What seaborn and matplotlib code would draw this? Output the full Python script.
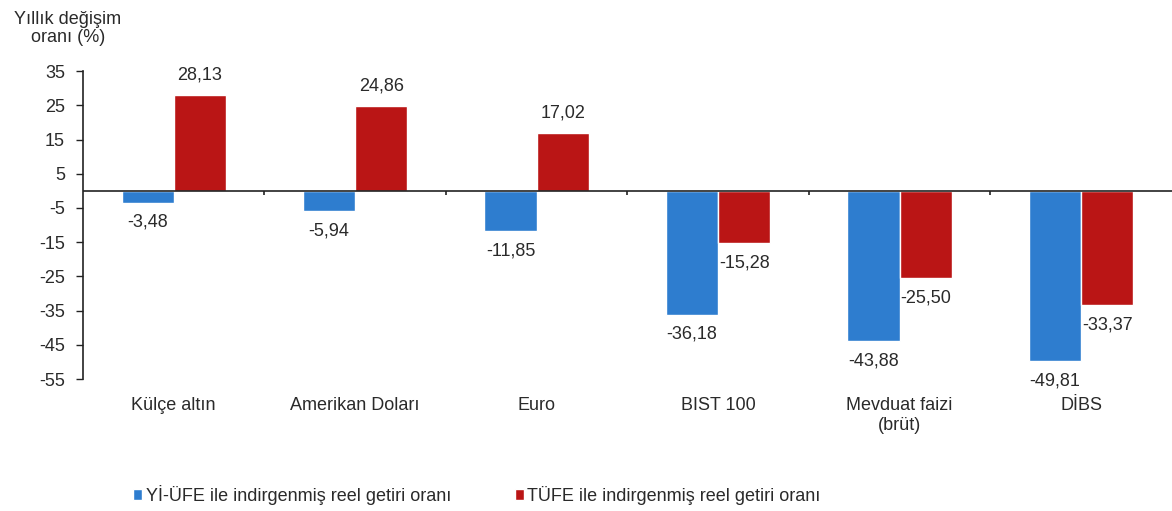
import matplotlib
matplotlib.use("Agg")
import matplotlib.pyplot as plt
import seaborn as sns
import pandas as pd
import numpy as np

categories = ["Külçe altın", "Amerikan Doları", "Euro", "BIST 100", "Mevduat faizi\n(brüt)", "DİBS"]
series_names = ["Yİ-ÜFE ile indirgenmiş reel getiri oranı", "TÜFE ile indirgenmiş reel getiri oranı"]
yiufe = [-3.48, -5.94, -11.85, -36.18, -43.88, -49.81]
tufe = [28.13, 24.86, 17.02, -15.28, -25.50, -33.37]
yticks = [35, 25, 15, 5, -5, -15, -25, -35, -45, -55]
colors = ["#2E7DCF", "#BA1515"]

df = pd.DataFrame({
    "cat": categories * 2,
    "series": [series_names[0]] * 6 + [series_names[1]] * 6,
    "val": yiufe + tufe,
})

sns.set_theme(style="white")
plt.rcParams["font.family"] = ["Liberation Sans", "DejaVu Sans"]
FS = 13

fig = plt.figure(figsize=(11.72, 5.11), dpi=100)
ax = fig.add_axes([0.0708, 0.258, 0.929, 0.603])

sns.barplot(data=df, x="cat", y="val", hue="series", palette=colors,
            width=0.575, saturation=1, ax=ax, legend=True)

ax.set_ylim(-55, 35)
ax.set_xlim(-0.5, 5.5)
ax.set_yticks(yticks)
ax.set_yticklabels([str(t) for t in yticks], fontsize=FS, color="#2a2a2a")
ax.tick_params(axis="y", direction="out", length=5, width=1, pad=8, left=True, color="#222222")
ax.tick_params(axis="x", length=0, pad=13, labelsize=FS, labelcolor="#2a2a2a")
ax.set_xlabel("")
ax.set_ylabel("")

for s in ["top", "right", "bottom"]:
    ax.spines[s].set_visible(False)
ax.spines["left"].set_color("#222222")
ax.spines["left"].set_linewidth(1.2)

ax.axhline(0, color="#222222", lw=1.2, zorder=5)
for b in np.arange(0.5, 5.5, 1.0):
    ax.vlines(b, -1.3, 0, color="#222222", lw=1.2, zorder=5)

def fmt(v):
    return f"{v:.2f}".replace(".", ",")

for container in ax.containers:
    for patch in container:
        h = patch.get_height()
        x = patch.get_x() + patch.get_width() / 2
        if h >= 0:
            ax.annotate(fmt(h), (x, h), xytext=(0, 8), textcoords="offset points",
                        ha="center", va="bottom", fontsize=FS, color="#2a2a2a")
        else:
            ax.annotate(fmt(h), (x, h), xytext=(0, -8), textcoords="offset points",
                        ha="center", va="top", fontsize=FS, color="#2a2a2a")

fig.text(0.058, 0.978, "Yıllık değişim\noranı (%)", ha="center", va="top",
         fontsize=FS, color="#2a2a2a", linespacing=1.05)

handles, labels = ax.get_legend_handles_labels()
ax.get_legend().remove()
fig.legend(handles, labels, loc="lower left", bbox_to_anchor=(0.1, -0.02), ncol=2,
           frameon=False, fontsize=FS, handlelength=0.5, handleheight=0.5,
           handletextpad=0.2, columnspacing=3.5, labelcolor="#2a2a2a")

fig.savefig("out.png", dpi=100)
